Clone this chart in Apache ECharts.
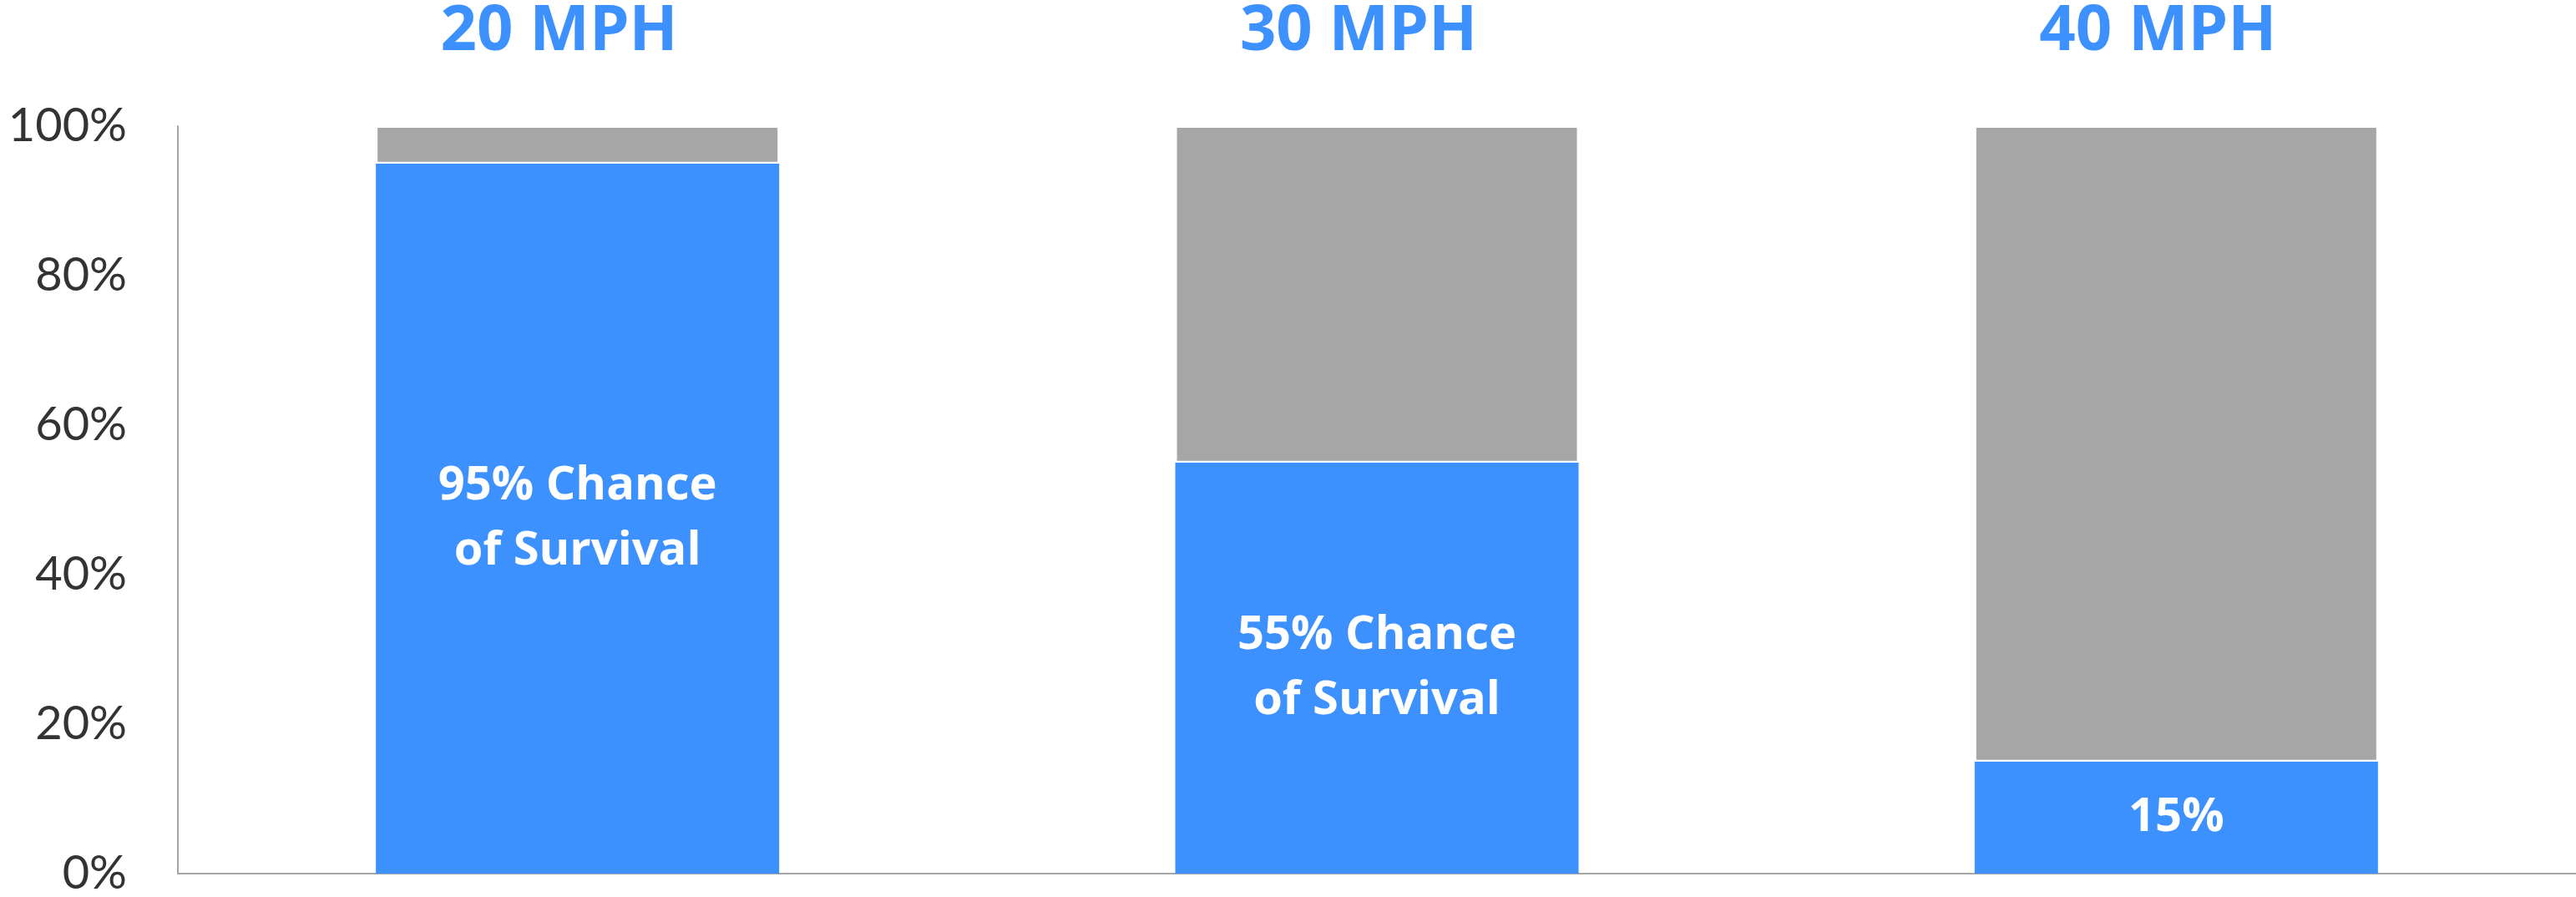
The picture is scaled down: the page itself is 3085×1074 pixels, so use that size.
<!DOCTYPE html>
<html>
<head>
<meta charset="utf-8">
<style>
  html, body { margin: 0; padding: 0; background: #ffffff; }
  #chart { width: 3085px; height: 1074px; }
</style>
<script src="https://cdn.jsdelivr.net/npm/echarts@6/dist/echarts.min.js"></script>
</head>
<body>
<div id="chart"></div>
<script>
// Pedestrian survival chance by vehicle impact speed
const categories = ['20 MPH', '30 MPH', '40 MPH'];
const survival = [95, 55, 15];
const fatal = [5, 45, 85];
const survivalLabelSuffix = ['% Chance\nof Survival', '% Chance\nof Survival', '%'];
const yTicks = [0, 20, 40, 60, 80, 100];

const BLUE = '#3d91ff';
const GREY = '#a6a6a6';

const chart = echarts.init(document.getElementById('chart'), null, { renderer: 'canvas' });

chart.setOption({
  animation: false,
  backgroundColor: '#ffffff',
  grid: { left: 213, right: -22, top: 150, bottom: 28, containLabel: false },
  xAxis: [
    {
      type: 'category',
      data: categories,
      position: 'bottom',
      axisLine: { show: true, lineStyle: { color: '#a6a6a6', width: 2 } },
      axisTick: { show: false },
      axisLabel: { show: false }
    },
    {
      type: 'category',
      data: categories,
      position: 'top',
      axisLine: { show: false },
      axisTick: { show: false },
      axisLabel: {
        show: true,
        color: BLUE,
        fontFamily: 'Open Sans',
        fontWeight: 'bold',
        fontSize: 76,
        verticalAlign: 'middle',
        margin: 113,
        padding: [0, 44, 0, 0]
      }
    }
  ],
  yAxis: {
    type: 'value',
    min: yTicks[0],
    max: yTicks[yTicks.length - 1],
    interval: 20,
    axisLine: { show: true, lineStyle: { color: '#a6a6a6', width: 2 } },
    axisTick: { show: false },
    splitLine: { show: false },
    axisLabel: {
      formatter: '{value}%',
      color: '#333333',
      fontFamily: 'Lato',
      fontSize: 56,
      margin: 61
    }
  },
  series: [
    {
      name: 'Survival',
      type: 'bar',
      stack: 'total',
      xAxisIndex: 0,
      data: survival,
      barWidth: 483,
      itemStyle: { color: BLUE },
      label: {
        show: true,
        position: 'inside',
        color: '#ffffff',
        fontFamily: 'Open Sans',
        fontWeight: 'bold',
        fontSize: 56,
        lineHeight: 78,
        align: 'center',
        formatter: (p) => p.value + survivalLabelSuffix[p.dataIndex]
      }
    },
    {
      name: 'Fatal',
      type: 'bar',
      stack: 'total',
      xAxisIndex: 0,
      data: fatal,
      barWidth: 483,
      itemStyle: { color: GREY, borderColor: '#ffffff', borderWidth: 2 }
    }
  ]
});
</script>
</body>
</html>
